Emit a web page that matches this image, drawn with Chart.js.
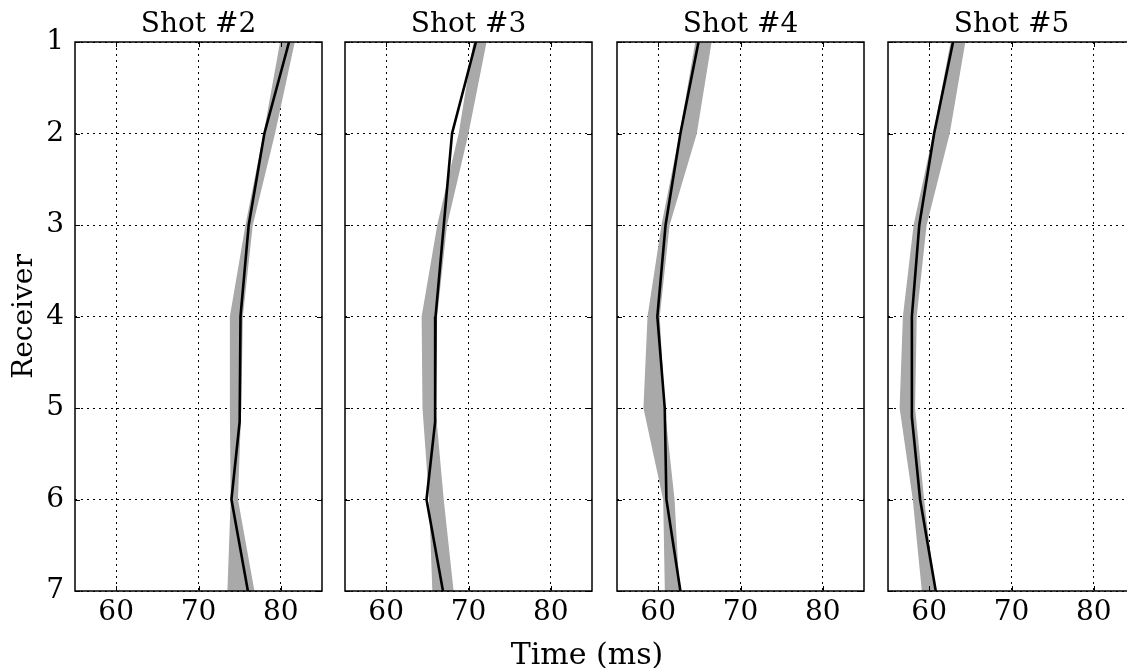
<!DOCTYPE html>
<html>
<head>
<meta charset="utf-8">
<script src="https://cdn.jsdelivr.net/npm/chart.js@4/dist/chart.umd.min.js"></script>
<style>
  html, body { margin: 0; padding: 0; background: #fff; overflow: hidden; width: 1127px; height: 668px; }
  .panel { position: absolute; top: 0; }
  #xlabel { position: absolute; left: 587px; top: 639px; transform: translateX(-50%);
    font: 30px "DejaVu Serif", serif; line-height: 30px; white-space: nowrap; color: #000; }
</style>
</head>
<body>
<canvas id="c0" class="panel"></canvas>
<canvas id="c1" class="panel"></canvas>
<canvas id="c2" class="panel"></canvas>
<canvas id="c3" class="panel"></canvas>
<div id="xlabel">Time (ms)</div>
<script>
// receivers (depth index) and tick values
const receivers = [1, 2, 3, 4, 5, 6, 7];
const xTicks = [60, 70, 80];
const shotTitles = ['Shot #2', 'Shot #3', 'Shot #4', 'Shot #5'];

// gray band of sampled travel times (min / max edge per receiver)
const bandLow2 = [80.0, 78.0, 75.8, 73.9, 73.9, 74.0, 73.6];
const bandHigh2 = [81.6, 79.2, 76.5, 75.3, 75.1, 74.7, 76.7];
const bandLow3 = [70.7, 68.9, 66.3, 64.4, 64.5, 65.3, 65.7];
const bandHigh3 = [72.1, 69.9, 67.3, 66.1, 65.9, 66.9, 68.1];
const bandLow4 = [64.6, 62.7, 60.5, 58.8, 58.3, 60.7, 60.9];
const bandHigh4 = [66.4, 64.6, 61.3, 60.1, 60.7, 61.9, 62.5];
const bandLow5 = [62.7, 60.6, 58.2, 56.9, 56.5, 58.1, 59.2];
const bandHigh5 = [64.3, 62.4, 59.6, 58.4, 58.2, 59.3, 60.6];

// black line (observed picks)
const pickDepth2 = [1, 2, 3, 4, 5.15, 6, 7];
const pickTime2 = [81.0, 78.0, 76.1, 75.1, 75.0, 74.0, 76.0];
const pickDepth3 = [1, 2, 3, 4, 5.15, 6, 7];
const pickTime3 = [70.9, 68.0, 67.0, 66.0, 65.95, 64.9, 66.9];
const pickDepth4 = [1, 2, 3, 4, 5, 6, 7];
const pickTime4 = [64.9, 62.7, 60.9, 59.9, 60.8, 61.0, 62.7];
const pickDepth5 = [1, 2, 3, 4, 5.1, 6, 7];
const pickTime5 = [62.9, 60.6, 58.8, 57.9, 57.9, 58.9, 60.8];

const shots = [
  { low: bandLow2, high: bandHigh2, depth: pickDepth2, time: pickTime2 },
  { low: bandLow3, high: bandHigh3, depth: pickDepth3, time: pickTime3 },
  { low: bandLow4, high: bandHigh4, depth: pickDepth4, time: pickTime4 },
  { low: bandLow5, high: bandHigh5, depth: pickDepth5, time: pickTime5 },
];

// canvas placement: left edge, y-axis box width
const panelLeft = [0, 325, 597, 868];
const yAxisWidth = [75, 20, 20, 20];
const plotRight = [322, 592, 864, 1135];
const H = 668;
const SERIF = '"DejaVu Serif", serif';

const toPoints = (xs, ys) => xs.map((x, i) => ({ x, y: ys[i] }));

// frame around the plot area plus inward tick marks
const framePlugin = {
  id: 'frame',
  afterDatasetsDraw(chart) {
    const { ctx, chartArea: a, scales } = chart;
    ctx.save();
    ctx.strokeStyle = '#000';
    ctx.lineWidth = 1;
    ctx.beginPath();
    xTicks.forEach((v) => {
      const px = Math.round(scales.x.getPixelForValue(v)) + 0.5;
      ctx.moveTo(px, a.top); ctx.lineTo(px, a.top + 5);
      ctx.moveTo(px, a.bottom); ctx.lineTo(px, a.bottom - 5);
    });
    receivers.forEach((v) => {
      const py = Math.round(scales.y.getPixelForValue(v)) + 0.5;
      ctx.moveTo(a.left, py); ctx.lineTo(a.left + 5, py);
      ctx.moveTo(a.right, py); ctx.lineTo(a.right - 5, py);
    });
    ctx.stroke();
    ctx.lineWidth = 1.5;
    ctx.strokeRect(a.left, a.top, a.right - a.left, a.bottom - a.top);
    ctx.restore();
  },
};

shots.forEach((shot, i) => {
  const canvas = document.getElementById('c' + i);
  canvas.width = plotRight[i] - panelLeft[i] + 10;
  canvas.height = H;
  canvas.style.left = panelLeft[i] + 'px';

  new Chart(canvas, {
    type: 'line',
    data: {
      datasets: [
        {
          data: toPoints(shot.time, shot.depth),
          borderColor: '#000',
          borderWidth: 2.6,
          pointRadius: 0,
          tension: 0,
          fill: false,
        },
        {
          data: toPoints(shot.low, receivers),
          borderColor: '#a9a9a9',
          borderWidth: 1.5,
          pointRadius: 0,
          tension: 0,
          fill: false,
        },
        {
          data: toPoints(shot.high, receivers),
          borderColor: '#a9a9a9',
          backgroundColor: '#a9a9a9',
          borderWidth: 1.5,
          pointRadius: 0,
          tension: 0,
          fill: '-1',
        },
      ],
    },
    options: {
      responsive: false,
      animation: false,
      devicePixelRatio: 1,
      indexAxis: 'y',
      layout: { padding: { left: 0, right: 10, top: 0, bottom: 0 } },
      plugins: {
        legend: { display: false },
        tooltip: { enabled: false },
        title: {
          display: true,
          fullSize: false,
          text: shotTitles[i],
          color: '#000',
          font: { family: SERIF, size: 28, weight: 'normal', lineHeight: 1 },
          padding: { top: 11, bottom: 3 },
        },
      },
      scales: {
        x: {
          type: 'linear',
          position: 'bottom',
          min: 55,
          max: 85,
          afterBuildTicks: (s) => { s.ticks = xTicks.map((v) => ({ value: v })); },
          afterFit: (s) => { s.height = H - 591; },
          ticks: { color: '#000', padding: 5, font: { family: SERIF, size: 28 } },
          grid: { color: '#000', lineWidth: 1, drawTicks: false },
          border: { display: false, dash: [2, 4] },
        },
        y: {
          type: 'linear',
          position: 'left',
          reverse: true,
          min: 1,
          max: 7,
          afterBuildTicks: (s) => { s.ticks = receivers.map((v) => ({ value: v })); },
          afterFit: (s) => { s.width = yAxisWidth[i]; },
          ticks: { display: i === 0, color: '#000', padding: 11, font: { family: SERIF, size: 28 } },
          title: {
            display: i === 0,
            text: 'Receiver',
            color: '#000',
            font: { family: SERIF, size: 28 },
            padding: { top: 8, bottom: 0 },
          },
          grid: { color: '#000', lineWidth: 1, drawTicks: false },
          border: { display: false, dash: [2, 4] },
        },
      },
    },
    plugins: [framePlugin],
  });
});
</script>
</body>
</html>
